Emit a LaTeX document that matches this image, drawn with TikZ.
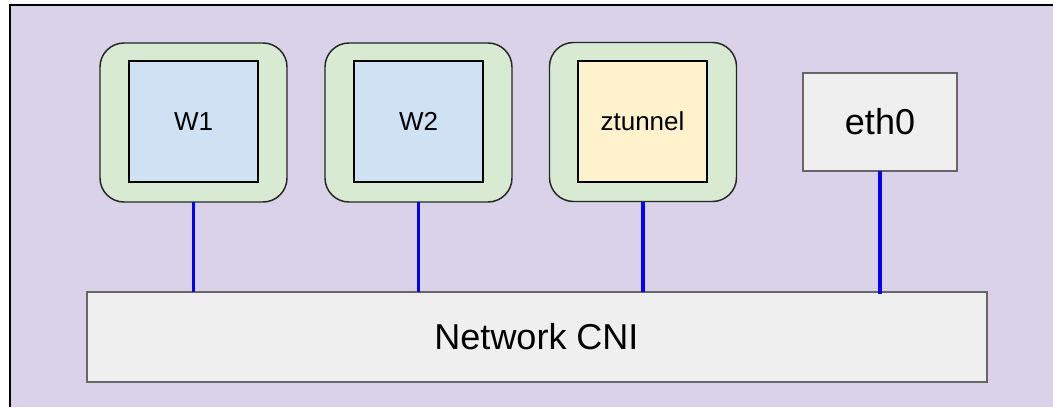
\documentclass[tikz,border=0pt]{standalone}
\usepackage{fontspec}
\setmainfont{Liberation Sans}
\definecolor{hostbg}{HTML}{D9D2E9}
\definecolor{podbg}{HTML}{D9EAD3}
\definecolor{wlbg}{HTML}{CFE2F3}
\definecolor{ztbg}{HTML}{FFF2CC}
\definecolor{devbg}{HTML}{EFEFEF}
\definecolor{devline}{HTML}{666666}
\definecolor{link}{HTML}{0000FF}
\begin{document}
\begin{tikzpicture}[x=0.75pt,y=-0.75pt,
  pod/.style={draw=black!85, line width=1.1pt, fill=podbg, rounded corners=18pt,
    minimum width=140.25pt, minimum height=119.25pt, inner sep=0pt, outer sep=0pt},
  workload/.style={draw=black, line width=1.5pt, fill=wlbg,
    minimum width=96.75pt, minimum height=90.75pt, inner sep=0pt, outer sep=0pt,
    font=\fontsize{19.5}{23}\selectfont},
  device/.style={draw=devline, line width=1.5pt, fill=devbg, inner sep=0pt, outer sep=0pt,
    font=\fontsize{27}{32}\selectfont},
  wire/.style={draw=link, line width=2.4pt}]
  \useasboundingbox (0,0) rectangle (1053,407);
  % host area
  \fill[hostbg] (10,5) rectangle (1053,407);
  \draw[line width=1.5pt] (10,407) -- (10,5) -- (1053,5);

  % pods with their workloads
  \node[pod] (w1pod) at (193.5,122.5) {};
  \node[workload] (w1) at (193.5,121.5) {W1};
  \node[pod] (w2pod) at (418.5,122.5) {};
  \node[workload] (w2) at (418.5,121.5) {W2};
  \node[pod] (ztpod) at (643,122) {};
  \node[workload, fill=ztbg] (zt) at (642.5,121.5) {ztunnel};

  % host interface and CNI
  \node[device, minimum width=115.5pt, minimum height=73.5pt] (eth) at (880,122) {eth0};
  \node[device, minimum width=675pt, minimum height=67.5pt] (cni) at (536.5,337) {Network CNI};

  % links to the CNI
  \draw[wire] (w1pod.south) -- (w1pod.south |- cni.north);
  \draw[wire] (w2pod.south) -- (w2pod.south |- cni.north);
  \draw[wire] (ztpod.south) -- (ztpod.south |- cni.north);
  \draw[wire] (eth.south) -- ([yshift=-1.5pt]eth.south |- cni.north);
\end{tikzpicture}
\end{document}
